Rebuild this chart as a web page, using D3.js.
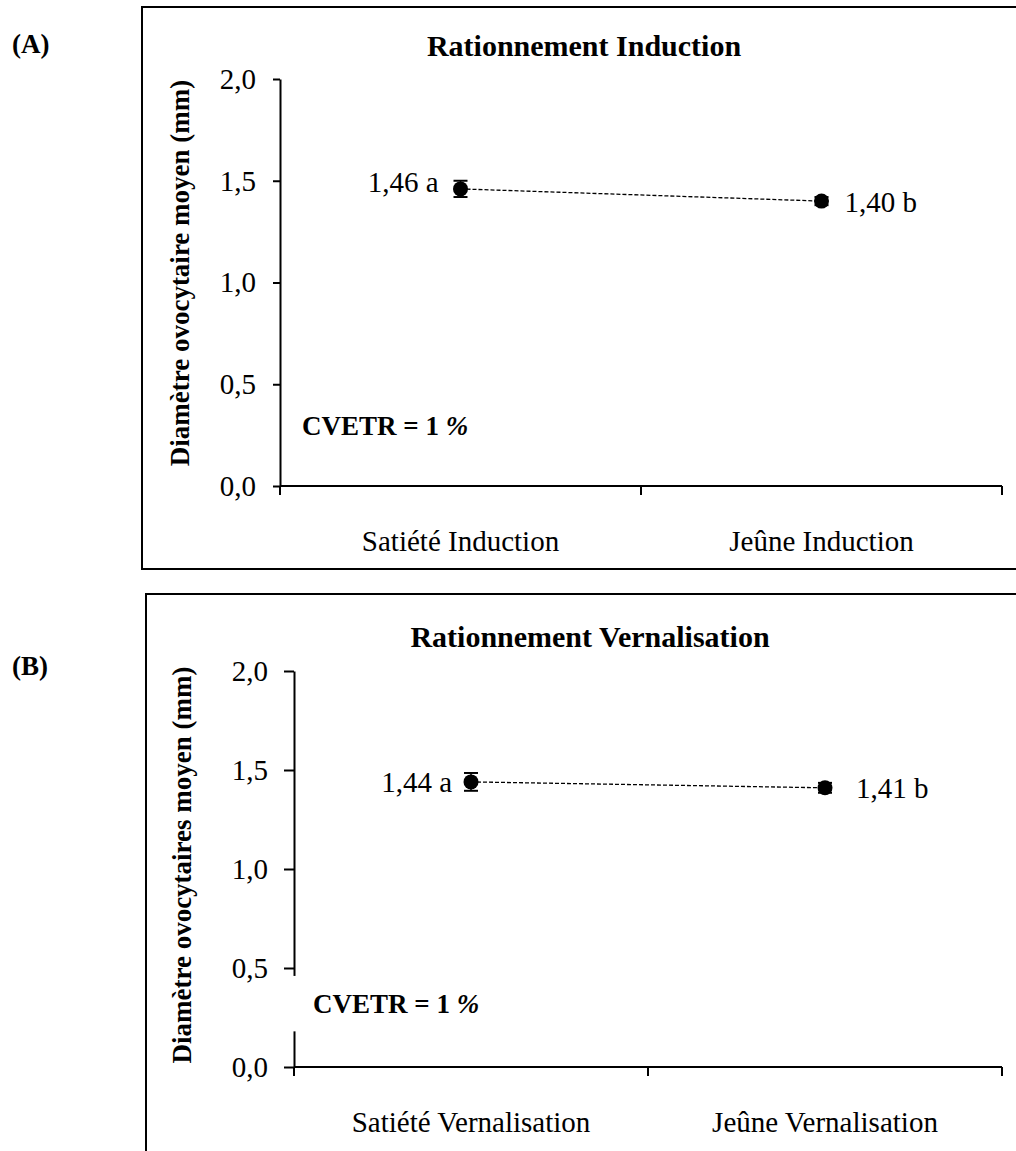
<!DOCTYPE html>
<html>
<head>
<meta charset="utf-8">
<script src="https://d3js.org/d3.v7.min.js"></script>
<style>
    body { margin: 0; background: #fff; }
    svg text { font-family: "Liberation Serif", "Times New Roman", serif; fill: #000; }
    .bold { font-weight: bold; }
</style>
</head>
<body>
<div id="chart"></div>
<script>
// data
var yTicks = [0, 0.5, 1.0, 1.5, 2.0];

var categoriesA = ["Satiété Induction", "Jeûne Induction"];
var valuesA = [1.46, 1.40];
var errorsA = [0.04, 0.02];
var labelsA = ["1,46 a", "1,40 b"];

var categoriesB = ["Satiété Vernalisation", "Jeûne Vernalisation"];
var valuesB = [1.44, 1.41];
var errorsB = [0.045, 0.025];
var labelsB = ["1,44 a", "1,41 b"];

var svg = d3.select("#chart")
    .append("svg")
    .attr("width", 1016)
    .attr("height", 1151);

var fmt = function (d) { return d3.format(".1f")(d).replace(".", ","); };

function panel(p) {
    var g = svg.append("g");

    // frame
    g.append("rect")
        .attr("x", p.box[0]).attr("y", p.box[1])
        .attr("width", p.box[2]).attr("height", p.box[3])
        .attr("fill", "none").attr("stroke", "#000").attr("stroke-width", 2);

    g.append("text").attr("class", "bold")
        .attr("x", 12).attr("y", p.letterY)
        .style("font-size", "27px")
        .text(p.letter);

    g.append("text").attr("class", "bold")
        .attr("x", p.titleX).attr("y", p.titleY)
        .attr("text-anchor", "middle")
        .style("font-size", "30px")
        .text(p.title);

    var x = d3.scaleBand()
        .domain(p.categories)
        .range([p.left, p.right]);

    var y = d3.scaleLinear()
        .domain([0, 2])
        .range([p.bottom, p.top]);

    // Y axis
    var yAxis = g.append("g")
        .attr("transform", "translate(" + p.left + ",0)")
        .call(d3.axisLeft(y)
            .tickValues(yTicks)
            .tickSize(p.tickLen)
            .tickSizeOuter(0)
            .tickPadding(p.tickPad)
            .tickFormat(fmt));
    yAxis.selectAll("path, line").attr("stroke", "#000").attr("stroke-width", 2);
    yAxis.selectAll("text")
        .style("font-size", "29px")
        .style("font-family", "'Liberation Serif', 'Times New Roman', serif");

    // X axis: line + ticks between categories
    g.append("line")
        .attr("x1", p.left).attr("x2", p.right)
        .attr("y1", p.bottom).attr("y2", p.bottom)
        .attr("stroke", "#000").attr("stroke-width", 2);

    var bounds = p.categories.map(function (d) { return x(d); }).concat([p.right]);
    g.selectAll("xtick")
        .data(bounds)
        .enter()
        .append("line")
        .attr("x1", function (d) { return d; })
        .attr("x2", function (d) { return d; })
        .attr("y1", p.bottom)
        .attr("y2", p.bottom + 9)
        .attr("stroke", "#000").attr("stroke-width", 2);

    var xAxis = g.append("g")
        .attr("transform", "translate(0," + p.bottom + ")")
        .call(d3.axisBottom(x).tickSize(0).tickPadding(p.catPad));
    xAxis.select(".domain").remove();
    xAxis.selectAll("text")
        .style("font-size", "29px")
        .style("font-family", "'Liberation Serif', 'Times New Roman', serif");

    // y label
    g.append("text").attr("class", "bold")
        .attr("transform", "translate(" + p.ylabX + "," + p.ylabY + ") rotate(-90)")
        .attr("text-anchor", "middle")
        .attr("dy", "0.35em")
        .style("font-size", "27px")
        .text(p.ylabel);

    // CV box (white, hides part of axis)
    if (p.cvMask) {
        g.append("rect")
            .attr("x", p.left - 6).attr("y", y(p.cvMask[1]))
            .attr("width", 200).attr("height", y(p.cvMask[0]) - y(p.cvMask[1]))
            .attr("fill", "#fff");
    }
    var cv = g.append("text").attr("class", "bold")
        .attr("x", p.cvX).attr("y", p.cvY)
        .style("font-size", "27px");
    cv.append("tspan").text("CVETR = 1 ");
    cv.append("tspan").style("font-style", "italic").text("%");

    // dashed line
    var pts = p.categories.map(function (c, i) { return [x(c) + x.bandwidth() / 2, y(p.values[i])]; });
    g.append("path")
        .datum(pts)
        .attr("d", d3.line())
        .attr("fill", "none")
        .attr("stroke", "#000")
        .attr("stroke-width", 1.3)
        .attr("stroke-dasharray", "4,2");

    // error bars
    p.categories.forEach(function (c, i) {
        var cx = x(c) + x.bandwidth() / 2;
        var lo = y(p.values[i] - p.errors[i]), hi = y(p.values[i] + p.errors[i]);
        g.append("line").attr("x1", cx).attr("x2", cx).attr("y1", lo).attr("y2", hi)
            .attr("stroke", "#000").attr("stroke-width", 1.5);
        [lo, hi].forEach(function (yy) {
            g.append("line").attr("x1", cx - 7).attr("x2", cx + 7).attr("y1", yy).attr("y2", yy)
                .attr("stroke", "#000").attr("stroke-width", 2);
        });
    });

    g.selectAll("dot")
        .data(p.values)
        .enter()
        .append("circle")
        .attr("cx", function (d, i) { return x(p.categories[i]) + x.bandwidth() / 2; })
        .attr("cy", function (d) { return y(d); })
        .attr("r", 7.5)
        .attr("fill", "#000");

    g.selectAll("vlabel")
        .data(p.labels)
        .enter()
        .append("text")
        .attr("x", function (d, i) { return x(p.categories[i]) + x.bandwidth() / 2 + p.labDx[i]; })
        .attr("y", function (d, i) { return y(p.values[i]) + p.labDy[i]; })
        .attr("text-anchor", function (d, i) { return i === 0 ? "end" : "start"; })
        .style("font-size", "29px")
        .text(function (d) { return d; });
}

panel({
    letter: "(A)", letterY: 53,
    box: [142, 7, 900, 562],
    title: "Rationnement Induction", titleX: 584, titleY: 56,
    categories: categoriesA, values: valuesA, errors: errorsA, labels: labelsA,
    left: 280, right: 1002, top: 79, bottom: 486,
    tickLen: 7, tickPad: 17, catPad: 44,
    ylabel: "Diamètre ovocytaire moyen (mm)", ylabX: 180, ylabY: 273,
    cvX: 302, cvY: 435,
    labDx: [-22, 23], labDy: [3, 11]
});

panel({
    letter: "(B)", letterY: 675,
    box: [146, 594, 900, 600],
    title: "Rationnement Vernalisation", titleX: 590, titleY: 647,
    categories: categoriesB, values: valuesB, errors: errorsB, labels: labelsB,
    left: 294, right: 1002, top: 671, bottom: 1067,
    tickLen: 10, tickPad: 16, catPad: 44,
    ylabel: "Diamètre ovocytaires moyen (mm)", ylabX: 182, ylabY: 865,
    cvMask: [0.18, 0.46], cvX: 313, cvY: 1013,
    labDx: [-19, 31], labDy: [10, 10]
});
</script>
</body>
</html>
